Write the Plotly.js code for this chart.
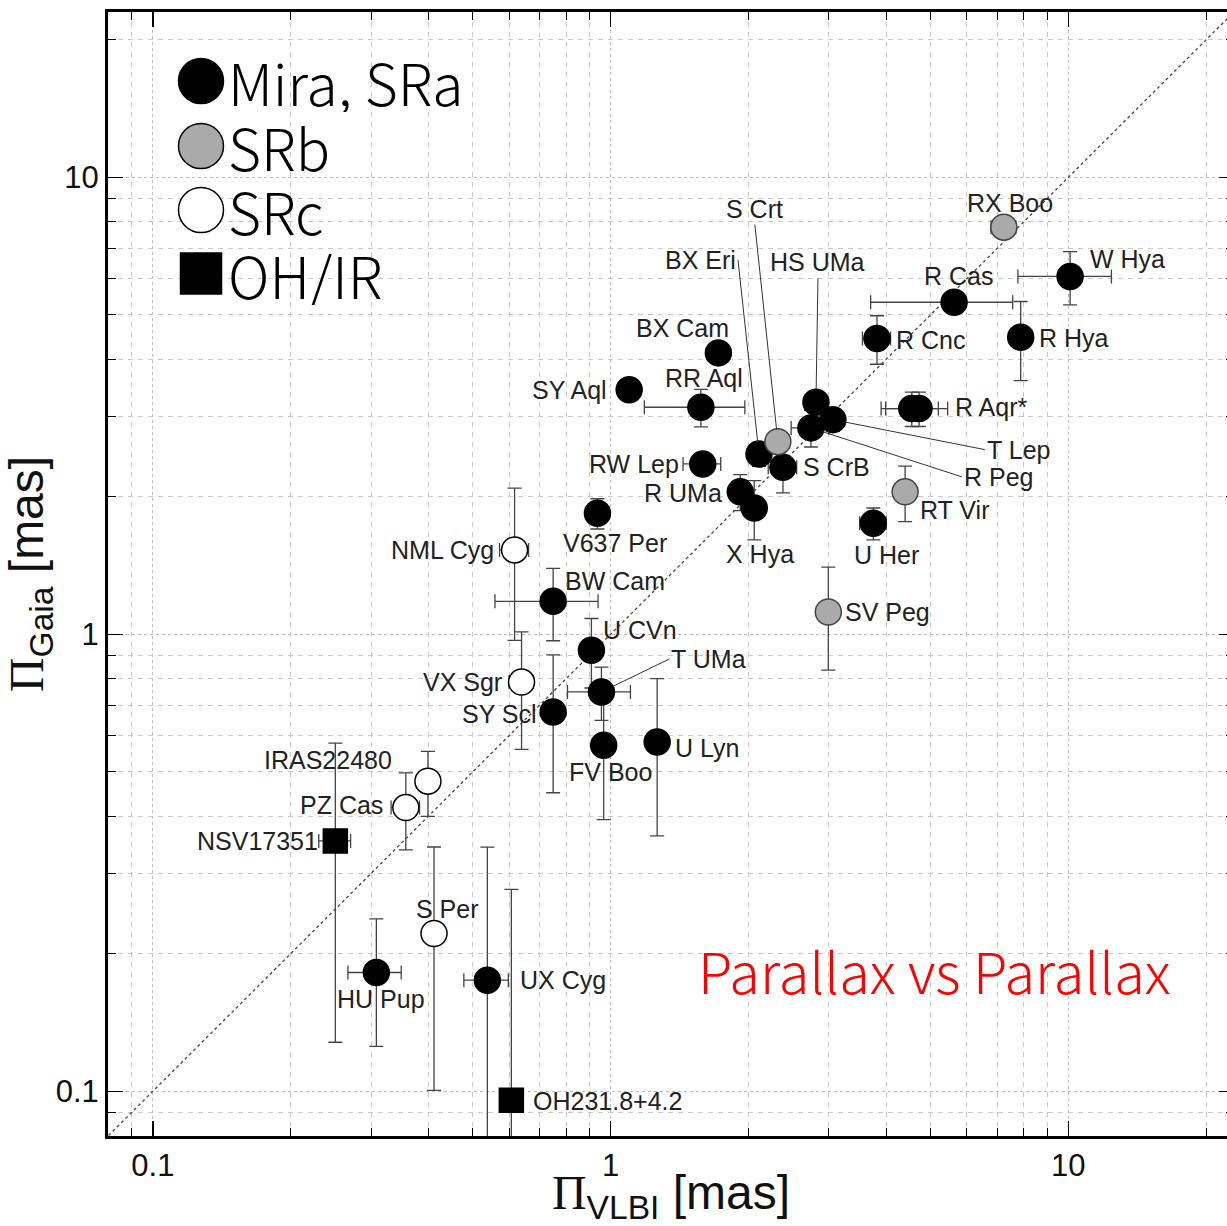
<!DOCTYPE html>
<html><head><meta charset="utf-8">
<script src="https://cdn.plot.ly/plotly-3.0.1.min.js"></script>
<style>html,body{margin:0;padding:0;overflow:hidden;background:#fff}</style>
</head><body><div id="chart"></div>
<script>
// ---- data (parallaxes in mas) ----
const stars = ['W Hya','R Cas','R Hya','R Cnc','R Aqr*','R Aqr*','HS UMa','T Lep','R Peg','BX Eri','S CrB','R UMa','X Hya','RW Lep','RR Aql','SY Aql','BX Cam','U Her','V637 Per','BW Cam','U CVn','T UMa','SY Scl','FV Boo','U Lyn','HU Pup','UX Cyg',
               'RX Boo','S Crt','RT Vir','SV Peg',
               'NML Cyg','VX Sgr','IRAS22480','PZ Cas','S Per',
               'NSV17351','OH231.8+4.2'];
const starClass = ['Mira, SRa','Mira, SRa','Mira, SRa','Mira, SRa','Mira, SRa','Mira, SRa','Mira, SRa','Mira, SRa','Mira, SRa','Mira, SRa','Mira, SRa','Mira, SRa','Mira, SRa','Mira, SRa','Mira, SRa','Mira, SRa','Mira, SRa','Mira, SRa','Mira, SRa','Mira, SRa','Mira, SRa','Mira, SRa','Mira, SRa','Mira, SRa','Mira, SRa','Mira, SRa','Mira, SRa',
                   'SRb','SRb','SRb','SRb',
                   'SRc','SRc','SRc','SRc','SRc',
                   'OH/IR','OH/IR'];
const plxVLBI = [10.09,5.63,7.87,3.82,4.55,4.72,2.81,3.06,2.74,2.11,2.38,1.92,2.06,1.59,1.575,1.098,1.72,3.75,0.936,0.749,0.908,0.955,0.749,0.966,1.264,0.3078,0.538,
                 7.23,2.32,4.40,2.99,
                 0.617,0.639,0.399,0.357,0.4114,
                 0.2504,0.607];
const errVLBI = [2.33,1.93,0.25,0.27,0.65,0.73,0.1,0.1,0.26,0.1,0.17,0.1,0.1,0.15,0.39,0.06,0.05,0.25,0.03,0.19,0.03,0.15,0.03,0.03,0.03,0.041,0.06,
                 0.45,0.05,0.1,0.1,
                 0.045,0.039,0.022,0.0255,0.02,
                 0.02,0.03];
const plxGaia = [6.07,5.33,4.47,4.44,3.12,3.12,3.22,2.95,2.83,2.48,2.32,2.05,1.89,2.36,3.14,3.43,4.13,1.75,1.84,1.181,0.923,0.748,0.676,0.572,0.581,0.1819,0.175,
                 7.78,2.64,2.05,1.119,
                 1.53,0.786,0.477,0.4176,0.2214,
                 0.353,0.0956];
const errGaia = [0.81,0.25,0.88,0.54,0.27,0.27,0.15,0.17,0.26,0.15,0.28,0.185,0.28,0.1,0.295,0.1,0.15,0.14,0.14,0.213,0.16,0.10,0.226,0.179,0.219,0.0565,0.167,
                 0.3,0.1,0.285,0.284,
                 0.56,0.226,0.0775,0.08,0.121,
                 0.225,0.181];
const showLabel = stars.map((s,i)=> !(s==='R Aqr*' && i===4));
const classNames = ['Mira, SRa','SRb','SRc','OH/IR'];
const identityLine = [0.05, 30];
const chartTitle = 'Parallax vs Parallax';

// ---- styles ----
const classStyle = {
  'Mira, SRa': {symbol:'circle', color:'#000', line:'#000', size:26},
  'SRb':       {symbol:'circle', color:'#aaaaaa', line:'#444', size:26},
  'SRc':       {symbol:'circle', color:'#fff', line:'#000', size:26},
  'OH/IR':     {symbol:'square', color:'#000', line:'#000', size:24}
};
const labelPos = {
 'RX Boo':{a:'center',dx:6,dy:-24}, 'W Hya':{a:'left',dx:18,dy:-17}, 'R Cas':{a:'center',dx:4,dy:-26},
 'R Hya':{a:'left',dx:16,dy:1}, 'R Cnc':{a:'left',dx:17,dy:1}, 'R Aqr*':{a:'left',dx:34,dy:-2},
 'SY Aql':{a:'right',dx:-20,dy:0}, 'BX Cam':{a:'center',dx:-36,dy:-25}, 'RR Aql':{a:'center',dx:3,dy:-29},
 'RW Lep':{a:'right',dx:-22,dy:0}, 'S CrB':{a:'left',dx:18,dy:0}, 'R UMa':{a:'right',dx:-16,dy:1},
 'X Hya':{a:'center',dx:6,dy:46}, 'RT Vir':{a:'left',dx:13,dy:18}, 'U Her':{a:'center',dx:13,dy:32},
 'SV Peg':{a:'left',dx:15,dy:0}, 'V637 Per':{a:'center',dx:18,dy:30}, 'NML Cyg':{a:'right',dx:-19,dy:0},
 'BW Cam':{a:'left',dx:10,dy:-20}, 'U CVn':{a:'left',dx:10,dy:-20}, 'VX Sgr':{a:'right',dx:-18,dy:0},
 'SY Scl':{a:'right',dx:-14,dy:2}, 'FV Boo':{a:'center',dx:7,dy:27}, 'U Lyn':{a:'left',dx:16,dy:6},
 'IRAS22480':{a:'right',dx:-34,dy:-21}, 'PZ Cas':{a:'right',dx:-21,dy:-3}, 'NSV17351':{a:'right',dx:-15,dy:0},
 'S Per':{a:'center',dx:13,dy:-25}, 'HU Pup':{a:'center',dx:5,dy:26}, 'UX Cyg':{a:'left',dx:31,dy:0},
 'OH231.8+4.2':{a:'left',dx:20,dy:1},
 'HS UMa':{arrow:true,a:'center',v:'bottom',ax:2,ay:-124},
 'S Crt':{arrow:true,a:'center',v:'bottom',ax:-23,ay:-217},
 'BX Eri':{arrow:true,a:'right',v:'middle',ax:-21,ay:-194},
 'T Lep':{arrow:true,a:'left',v:'middle',ax:152,ay:30},
 'R Peg':{arrow:true,a:'left',v:'middle',ax:151,ay:49},
 'T UMa':{arrow:true,a:'left',v:'middle',ax:68,ay:-33}
};
const labelFont = {family:'Liberation Sans, Arial, sans-serif', size:25, color:'#222'};
const jpFont = 'Noto Sans CJK JP, Noto Sans, sans-serif';

// ---- traces ----
const traces = [{
  x: identityLine, y: identityLine, mode:'lines', type:'scatter',
  line:{color:'#444', width:1.3, dash:'dot'}, hoverinfo:'skip', showlegend:false
}];
classNames.forEach(cn => {
  const idx = starClass.map((c,i)=> c===cn ? i : -1).filter(i=>i>=0);
  const st = classStyle[cn];
  traces.push({
    type:'scatter', mode:'markers', name:cn, showlegend:false,
    x: idx.map(i=>plxVLBI[i]), y: idx.map(i=>plxGaia[i]), text: idx.map(i=>stars[i]),
    error_x:{type:'data', array: idx.map(i=>errVLBI[i]), color:'#444', thickness:1.3, width:7},
    error_y:{type:'data', array: idx.map(i=>errGaia[i]), color:'#444', thickness:1.3, width:7},
    marker:{symbol:st.symbol, size:st.size, color:st.color, line:{color:st.line, width:1.5}}
  });
});

// ---- annotations: star labels ----
const annotations = [];
stars.forEach((s,i) => {
  if (!showLabel[i]) return;
  const p = labelPos[s];
  const base = {x: Math.log10(plxVLBI[i]), y: Math.log10(plxGaia[i]), xref:'x', yref:'y', text:s, font:labelFont};
  if (p.arrow) {
    annotations.push(Object.assign(base, {showarrow:true, arrowhead:0, arrowwidth:1, arrowcolor:'#333',
      ax:p.ax, ay:p.ay, xanchor:p.a, yanchor:p.v, standoff:12}));
  } else {
    annotations.push(Object.assign(base, {showarrow:false, xanchor:p.a, yanchor:'middle', xshift:p.dx, yshift:-p.dy}));
  }
});

// legend (drawn manually)
const L = 108, W = 1126, T = 12, H = 1124;
const px = v => (v - L) / W, py = v => (T + H - v) / H;
const legendRows = [81, 146, 210, 273.5];
const shapes = [];
classNames.forEach((cn, k) => {
  const st = classStyle[cn];
  const r = cn === 'OH/IR' ? 20.5 : 22.5;
  shapes.push({type: cn === 'OH/IR' ? 'rect' : 'circle', xref:'paper', yref:'paper',
    xsizemode:'pixel', ysizemode:'pixel', xanchor:px(201), yanchor:py(legendRows[k]),
    x0:-r, x1:r, y0:-r, y1:r, fillcolor:st.color, line:{color:'#000', width:1.5}});
  annotations.push({xref:'paper', yref:'paper', x:px(226), y:py(legendRows[k]), xanchor:'left', yanchor:'middle',
    height:62, valign:'middle',
    showarrow:false, text:cn, font:{family:jpFont, size:57, weight:300, color:'#000'}});
});
annotations.push({xref:'paper', yref:'paper', x:px(696), y:py(969), xanchor:'left', yanchor:'middle',
  showarrow:false, text:chartTitle, font:{family:jpFont, size:56, weight:300, color:'#ff0000'}});

const axisCommon = {
  type:'log', range:[-1.098, 1.362], dtick:1, tick0:0,
  showline:true, linewidth:3, linecolor:'#000', mirror:'allticks',
  ticks:'inside', ticklen:15, tickwidth:1.3, tickcolor:'#000',
  showgrid:true, gridcolor:'#bdbdbd', gridwidth:1, griddash:'dot',
  tickfont:{family:'Liberation Sans, Arial, sans-serif', size:31, color:'#111'},
  minor:{dtick:'D1', ticks:'inside', ticklen:8, tickwidth:1, tickcolor:'#000', showgrid:true, gridcolor:'#c8c8c8', griddash:'5px,5px', gridwidth:1},
  zeroline:false
};
const serif = 'Liberation Serif, Times New Roman, serif';
const titleFont = {family:'Liberation Sans, Arial, sans-serif', size:48, color:'#111'};
const layout = {
  width:1236, height:1226, margin:{l:108, r:2, t:12, b:90},
  paper_bgcolor:'#fff', plot_bgcolor:'#fff', showlegend:false,
  xaxis: Object.assign({}, axisCommon, {title:{text:'<span style="font-family:'+serif+'">Π</span><sub>VLBI</sub> [mas]', font:titleFont, standoff:0}}),
  yaxis: Object.assign({}, axisCommon, {title:{text:'<span style="font-family:'+serif+'">Π</span><sub>Gaia</sub> [mas]', font:titleFont, standoff:2}}),
  annotations, shapes
};
Plotly.newPlot('chart', traces, layout, {staticPlot:true});
</script></body></html>
